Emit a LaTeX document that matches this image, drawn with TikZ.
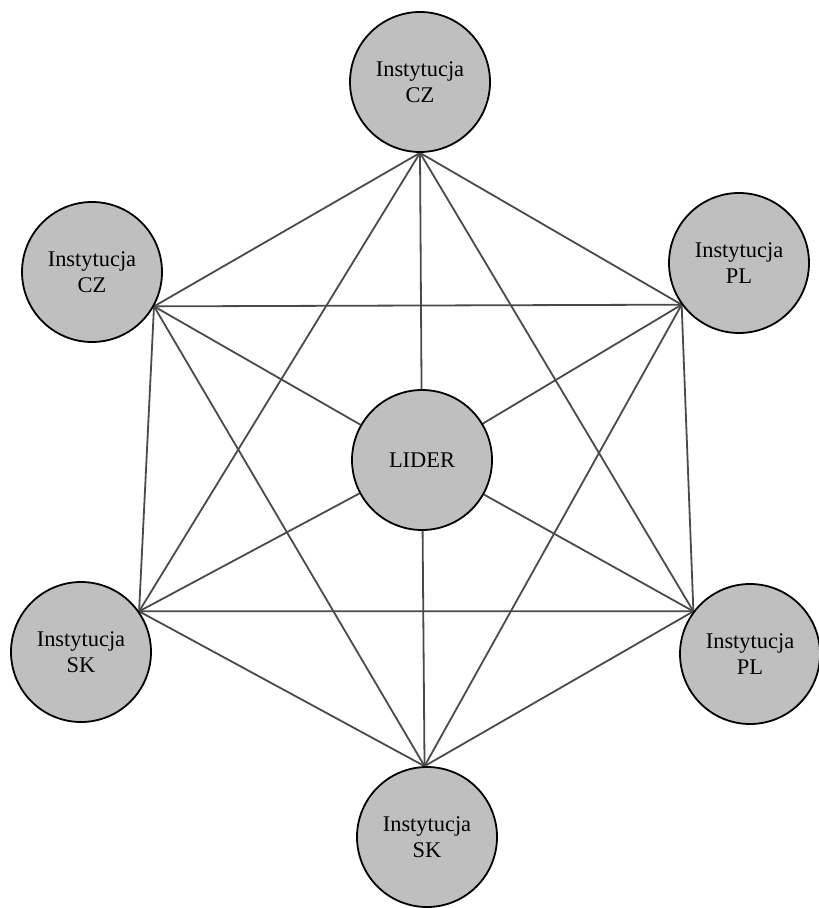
\documentclass[tikz,border=0pt]{standalone}
\usepackage{fontspec}
\setmainfont{Liberation Serif}
\usetikzlibrary{positioning,backgrounds}
\definecolor{discgray}{HTML}{BFBFBF}
\definecolor{linkgray}{HTML}{4A4A4A}

\begin{document}
\begin{tikzpicture}[x=0.5pt,y=-0.5pt,
  disc/.style={circle,draw=black,line width=0.9pt,fill=discgray,minimum size=70pt,inner sep=0pt,align=center,font=\fontsize{11.2}{13}\selectfont},
  inst/.style={disc,execute at begin node={\rule{0pt}{13pt}}},
  link/.style={draw=linkgray,line width=0.9pt}]
\useasboundingbox (0,0) rectangle (818,908);
\node[inst] (czTop) at (420,82) {Instytucja\\CZ};
\node[inst] (czLeft) at (92,272) {Instytucja\\CZ};
\node[inst] (plTop) at (739,263) {Instytucja\\PL};
\node[inst] (skLeft) at (81,652) {Instytucja\\SK};
\node[inst] (plLow) at (750,654) {Instytucja\\PL};
\node[inst] (skBot) at (427,837) {Instytucja\\SK};
\node[disc] (lider) at (422,460) {LIDER};
% meeting points on the rims
\coordinate (a) at (czTop.-90);
\coordinate (b) at (czLeft.-29);
\coordinate (c) at (plTop.216);
\coordinate (d) at (skLeft.35);
\coordinate (e) at (plLow.143);
\coordinate (f) at (skBot.92);
\begin{scope}[on background layer]
\draw[link] (a) -- (b);
\draw[link] (a) -- (c);
\draw[link] (a) -- (d);
\draw[link] (a) -- (e);
\draw[link] (b) -- (c);
\draw[link] (b) -- (d);
\draw[link] (b) -- (f);
\draw[link] (c) -- (e);
\draw[link] (c) -- (f);
\draw[link] (d) -- (e);
\draw[link] (d) -- (f);
\draw[link] (e) -- (f);
% spokes to the centre
\draw[link] (a) -- (lider);
\draw[link] (b) -- (lider);
\draw[link] (c) -- (lider);
\draw[link] (d) -- (lider);
\draw[link] (e) -- (lider);
\draw[link] (f) -- (lider);
\end{scope}
\end{tikzpicture}
\end{document}
